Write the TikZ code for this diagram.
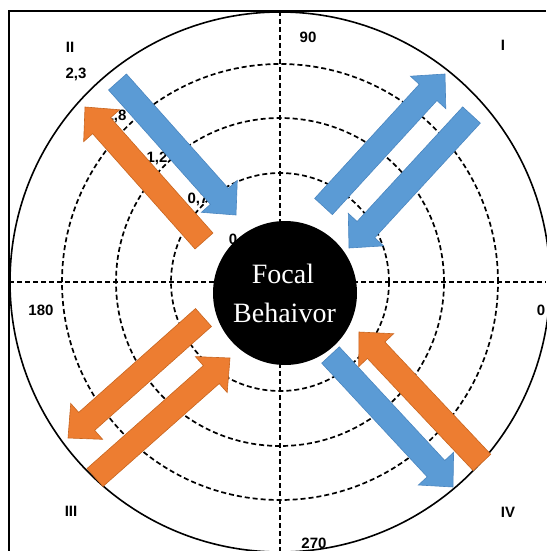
\documentclass[tikz,border=0pt]{standalone}
\usepackage{fontspec}
\setmainfont{Liberation Serif}
\newfontfamily\labfont{Liberation Sans}
\usetikzlibrary{calc}
\definecolor{arrblue}{HTML}{5B9BD5}
\definecolor{arrblueedge}{HTML}{4A86C0}
\definecolor{arrorange}{HTML}{ED7D31}
\definecolor{arroredge}{HTML}{C8651F}
\tikzset{
  frameline/.style={line width=1.6pt, black},
  ringline/.style={line width=1.7pt, black, dash pattern=on 5pt off 3pt},
  axisline/.style={line width=1.7pt, black, dash pattern=on 5pt off 3pt},
  outerline/.style={line width=1.6pt, black},
  lab/.style={font=\labfont\bfseries\fontsize{15}{17}\selectfont, inner sep=0pt},
  bluearr/.style={fill=arrblue, draw=arrblueedge, line width=0.6pt},
  orangearr/.style={fill=arrorange, draw=arroredge, line width=0.6pt},
  focaltext/.style={text=white, font=\fontsize{28}{39}\selectfont, inner sep=0pt, anchor=base}
}
% block arrow: #1 style, #2 name, #3 tail, #4 tip
\newcommand{\blockarr}[4]{%
  \coordinate (#2t) at #3;
  \coordinate (#2p) at #4;
  \coordinate (#2n) at ($(#2p)!25pt!(#2t)$);
  \path[#1] ($(#2t)!12pt!90:(#2p)$) -- ($(#2n)!12pt!-90:(#2t)$) -- ($(#2n)!24pt!-90:(#2t)$)
    -- (#2p) -- ($(#2n)!24pt!90:(#2t)$) -- ($(#2n)!12pt!90:(#2t)$) -- ($(#2t)!12pt!-90:(#2p)$) -- cycle;
}
\begin{document}
\begin{tikzpicture}[x=1pt,y=-1pt]
\useasboundingbox (0,0) rectangle (546,551);
\fill[white] (0,0) rectangle (546,551);
\coordinate (O) at (280,282);
% rings
\draw[ringline] (O) circle[radius=109pt];
\draw[ringline] (O) circle[radius=164pt];
\draw[ringline] (O) circle[radius=218pt];
\draw[outerline] (O) circle[radius=270pt];
% axes
\coordinate (axL) at (9,282);
\coordinate (axR) at (546,282);
\coordinate (axT) at (280,11);
\coordinate (axB) at (280,551);
\draw[axisline] (axL) -- (axR);
\draw[axisline] (axT) -- (axB);
% frame
\coordinate (frBL) at (9,551);
\coordinate (frTL) at (9,11);
\coordinate (frTR) at (546,11);
\draw[frameline] (frBL) -- (frTL) -- (frTR);
% labels
\node[lab] (q2) at (70,47) {II};
\node[lab] (q1) at (503,45) {I};
\node[lab] (q3) at (71,511) {III};
\node[lab] (q4) at (508,512) {IV};
\node[lab] (a90) at (308,37) {90};
\node[lab] (a180) at (41,310) {180};
\node[lab] (a0) at (541,310) {0};
\node[lab] (a270) at (314,543) {270};
\node[lab] (r5) at (76,74) {2,3};
\node[lab] (r4) at (116,116) {1,8};
\node[lab] (r3) at (157,158) {1,2};
\node[lab] (r2) at (198,199) {0,7};
\node[lab] (r1) at (233,239) {0};
% arrows
\blockarr{bluearr}{ba}{(117.5,82)}{(236,215)}
\blockarr{orangearr}{oa}{(204,241)}{(85,107)}
\blockarr{bluearr}{bb}{(323.5,206.5)}{(445,74)}
\blockarr{bluearr}{bc}{(471.5,115)}{(349,248)}
\blockarr{orangearr}{ob}{(203.5,317.5)}{(68,438)}
\blockarr{orangearr}{oc}{(95,477.5)}{(230,358)}
\blockarr{bluearr}{bd}{(330.5,355)}{(453,487)}
\blockarr{orangearr}{od}{(482,462.5)}{(359,332)}
% focal circle
\node[circle, fill=black, minimum size=144pt, inner sep=0pt] (focal) at (285,293) {};
\node[focaltext] (ft1) at (283,283) {Focal};
\node[focaltext] (ft2) at (284.5,322) {Behaivor};
\end{tikzpicture}
\end{document}
